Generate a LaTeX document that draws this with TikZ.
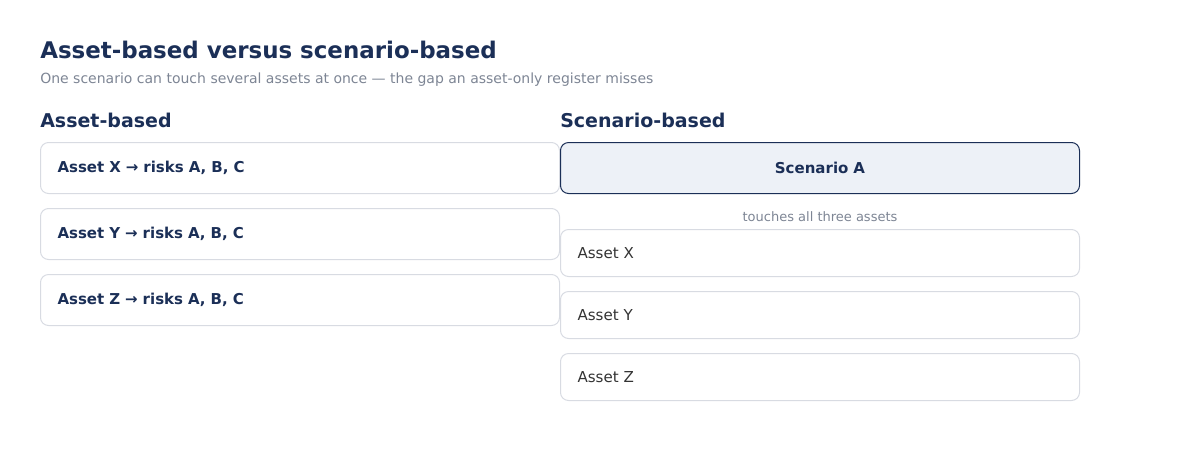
\documentclass[tikz,border=0pt]{standalone}
\usepackage{fontspec}
\setmainfont{DejaVu Sans}
\usepackage{tikz}
\usetikzlibrary{positioning}

\definecolor{navy}{HTML}{1B2F57}
\definecolor{greytext}{HTML}{7D8594}
\definecolor{boxline}{HTML}{D8DBE2}
\definecolor{scenfill}{HTML}{EDF1F7}
\definecolor{assettext}{HTML}{333333}

\begin{document}
\begin{tikzpicture}[
    x=0.75pt, y=-0.75pt,
    node distance = 10.5pt,
    card/.style={draw=boxline, line width=0.75pt, rounded corners=6pt,
      minimum width=389.25pt, text width=363.75pt, inner xsep=12.75pt,
      align=left, anchor=north west},
    riskcard/.style={card, minimum height=38.25pt, font=\bfseries\fontsize{11.25}{13}\selectfont,
      text=navy},
    assetcard/.style={card, minimum height=35.25pt, font=\fontsize{11.3}{13}\selectfont,
      text=assettext},
    heading/.style={anchor=west, inner sep=0pt, text=navy, font=\bfseries\fontsize{14.25}{16}\selectfont}]
    \useasboundingbox (0,0) rectangle (1200,451);
    % title
    \node[anchor=west, inner sep=0pt, text=navy, font=\bfseries\fontsize{17.2}{20}\selectfont]
      (title) at (40,50) {Asset-based versus scenario-based};
    \node[anchor=west, inner sep=0pt, text=greytext, font=\fontsize{10.5}{12}\selectfont]
      (subtitle) at (40,80) {One scenario can touch several assets at once — the gap an asset-only register misses};
    % asset-based column
    \node[heading] (lefthead) at (40,120.5) {Asset-based};
    \node[riskcard] (riskx) at (40,142) {Asset X → risks A, B, C};
    \node[riskcard] (risky) [below=of riskx.south west, anchor=north west] {Asset Y → risks A, B, C};
    \node[riskcard] (riskz) [below=of risky.south west, anchor=north west] {Asset Z → risks A, B, C};
    % scenario-based column
    \node[heading] (righthead) at (560,120.5) {Scenario-based};
    \node[riskcard, draw=navy, fill=scenfill, align=center] (scena) at (560,142) {Scenario A};
    \node[inner sep=0pt, text=greytext, font=\fontsize{9.75}{11}\selectfont]
      (touches) at (820,216.5) {touches all three assets};
    \node[assetcard] (assetx) at (560,229) {Asset X};
    \node[assetcard] (assety) [below=of assetx.south west, anchor=north west] {Asset Y};
    \node[assetcard] (assetz) [below=of assety.south west, anchor=north west] {Asset Z};
\end{tikzpicture}
\end{document}
